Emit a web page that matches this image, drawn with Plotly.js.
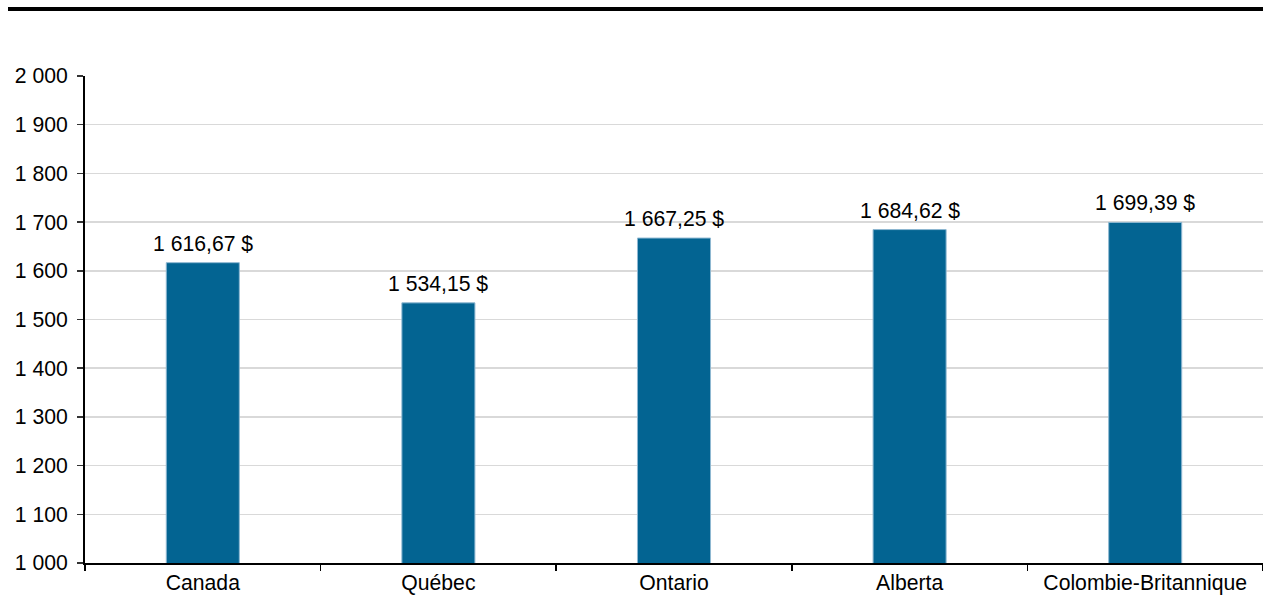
<!DOCTYPE html>
<html>
<head>
<meta charset="utf-8">
<script src="https://cdn.plot.ly/plotly-3.0.1.min.js"></script>
<style>
html,body{margin:0;padding:0;background:#fff;}
#chart{width:1263px;height:597px;}
</style>
</head>
<body>
<div id="chart"></div>
<script>
var categories = ["Canada", "Québec", "Ontario", "Alberta", "Colombie-Britannique"];
var values = [1616.67, 1534.15, 1667.25, 1684.62, 1699.39];
var yTickValues = [1000, 1100, 1200, 1300, 1400, 1500, 1600, 1700, 1800, 1900, 2000];
var yTickLabels = ["1 000", "1 100", "1 200", "1 300", "1 400", "1 500", "1 600", "1 700", "1 800", "1 900", "2 000"];

function fmt(v) {
  var parts = v.toFixed(2).split(".");
  var intPart = parts[0].replace(/\B(?=(\d{3})+(?!\d))/g, " ");
  return intPart + "," + parts[1] + " $";
}

var FONT = "Liberation Sans, Arial, sans-serif";
var FS = 21.2;

var trace = {
  type: "bar",
  x: categories,
  y: values,
  width: 0.31,
  marker: {color: "#036492", line: {color: "#8fb8d2", width: 1}},
  hoverinfo: "none"
};

var annotations = categories.map(function (c, i) {
  return {
    x: c, y: values[i], xref: "x", yref: "y",
    text: fmt(values[i]), showarrow: false,
    yanchor: "bottom", yshift: 6,
    font: {family: FONT, size: FS, color: "#000"}
  };
});

var plotW = 1263 - 85;

var layout = {
  width: 1263, height: 597,
  margin: {l: 85, r: 0, t: 76, b: 34, pad: 0},
  paper_bgcolor: "#fff", plot_bgcolor: "#fff",
  showlegend: false,
  font: {family: FONT, size: FS, color: "#000"},
  xaxis: {
    type: "category",
    range: [-0.5, 4.5],
    showline: true, linecolor: "#000", linewidth: 2,
    ticks: "outside", tickson: "boundaries", ticklen: 6, tickcolor: "#000", tickwidth: 1.5,
    ticklabelstandoff: 0,
    showgrid: false, zeroline: false,
    tickfont: {family: FONT, size: FS, color: "#000"}
  },
  yaxis: {
    range: [1000, 2000],
    tickmode: "array", tickvals: yTickValues, ticktext: yTickLabels,
    showline: true, linecolor: "#000", linewidth: 2,
    ticks: "outside", ticklen: 6, tickcolor: "#333", tickwidth: 1.5,
    ticklabelstandoff: 5,
    showgrid: true, gridcolor: "#d9d9d9", gridwidth: 1.5,
    zeroline: false,
    tickfont: {family: FONT, size: FS, color: "#000"}
  },
  annotations: annotations,
  shapes: [{
    type: "line", xref: "paper", yref: "paper",
    x0: (8 - 85) / plotW, x1: 1,
    y0: (563 - 9) / 487, y1: (563 - 9) / 487,
    line: {color: "#000", width: 4}
  }]
};

Plotly.newPlot("chart", [trace], layout, {displayModeBar: false, staticPlot: true});
</script>
</body>
</html>
